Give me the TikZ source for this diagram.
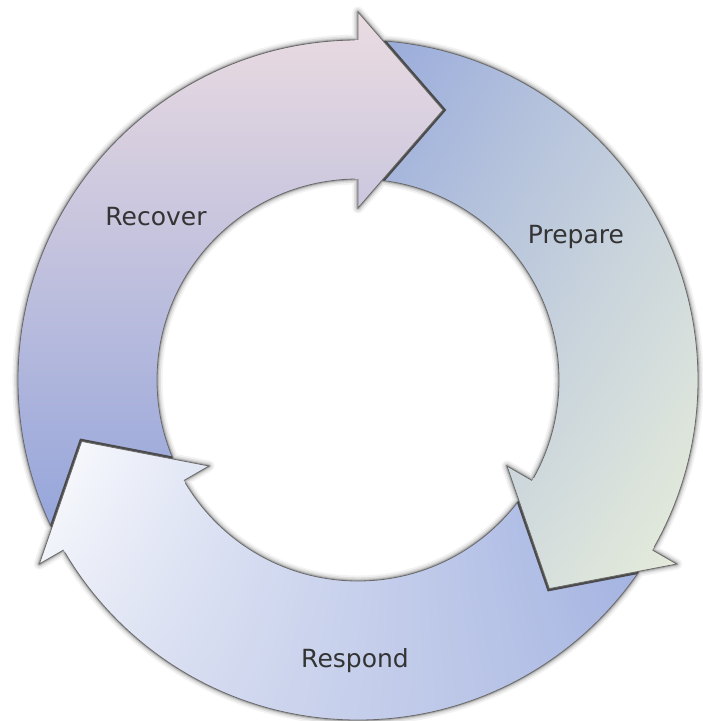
\documentclass[tikz,border=0pt]{standalone}
\usepackage{fontspec}
\setmainfont{DejaVu Sans}
\usetikzlibrary{calc,shadings}

% ring and arrowhead geometry (pt, centre of the ring at the origin)
\def\Ro{340}   % outer radius of the ring
\def\Ri{201}   % inner radius of the ring
\def\Ho{368}   % outer barb of an arrowhead
\def\Hi{172}   % inner barb of an arrowhead
\def\Hm{270}   % radius of the arrowhead axis
\def\Hl{85}    % arrowhead length

\definecolor{edgegray}{RGB}{105,105,105}
\definecolor{shadowgray}{RGB}{75,75,75}
\definecolor{labelgray}{RGB}{52,52,52}
\definecolor{recTop}{RGB}{236,220,225}
\definecolor{recBot}{RGB}{144,162,218}
\definecolor{preA}{RGB}{150,168,219}
\definecolor{preM}{RGB}{196,208,222}
\definecolor{preB}{RGB}{232,238,218}
\definecolor{resA}{RGB}{255,255,255}
\definecolor{resM}{RGB}{226,230,244}
\definecolor{resB}{RGB}{150,168,221}
\definecolor{resC}{RGB}{170,184,226}

\tikzset{
  edge/.style={draw=edgegray, line width=0.8pt, line join=miter},
  headshadow/.style={draw=shadowgray, line width=5pt, line join=miter},
  label/.style={text=labelgray, font=\fontsize{25}{30}\selectfont, anchor=base, inner sep=0pt}
}

% body of an arrow: ring sector running clockwise from #1 to #2
\newcommand\bodypath[2]{(#1:\Ro) arc[start angle=#1, end angle=#2, radius=\Ro pt] -- (#2:\Ri) arc[start angle=#2, end angle=#1, radius=\Ri pt] -- cycle}
% outline of the head of arrow #1 (named coordinates)
\newcommand\headpath[1]{(#1-bo) -- (#1-tip) -- (#1-bi) -- cycle}
% fill region of the head: reaches a little back into its own body
\newcommand\headfill[1]{(#1-bo) -- (#1-tip) -- (#1-bi) -- (#1-si) -- (#1-sib) -- (#1-sob) -- (#1-so) -- cycle}

\begin{document}
\begin{tikzpicture}[x=1pt,y=1pt]
\useasboundingbox (-358,-341) rectangle (345,380);
\fill[white] (-358,-341) rectangle (345,380);

% named points of the three arrowheads
\foreach \n/\b in {rec/90, pre/-30, res/210}{
  \coordinate (\n-bo) at (\b:\Ho);
  \coordinate (\n-bi) at (\b:\Hi);
  \coordinate (\n-so) at (\b:\Ro);
  \coordinate (\n-si) at (\b:\Ri);
  \coordinate (\n-sob) at ($(\b:\Ro)+(\b+90:3)$);
  \coordinate (\n-sib) at ($(\b:\Ri)+(\b+90:3)$);
  \coordinate (\n-tip) at ($(\b:\Hm)+(\b-90:\Hl)$);
}

% soft shadow around all shapes
\foreach \w/\o in {11/0.05, 7.5/0.07, 4.5/0.10, 2.5/0.16}{
  \draw[black, opacity=\o, line width=\w pt, line join=round]
    \bodypath{210}{90} \bodypath{90}{-30} \bodypath{330}{210}
    \headpath{rec} \headpath{pre} \headpath{res};
}

% arrow bodies
\begin{scope}
  \clip \bodypath{210}{90};
  \shade[top color=recTop, bottom color=recBot] (-345,-178) rectangle (92,372);
\end{scope}
\begin{scope}
  \clip \bodypath{90}{-30};
  \shade[upper left=preA, upper right=preM, lower left=preM, lower right=preB] (-5,-210) rectangle (342,342);
\end{scope}
\begin{scope}
  \clip \bodypath{330}{210};
  \shade[upper left=resA, lower left=resM, upper right=resB, lower right=resC] (-328,-342) rectangle (312,-50);
\end{scope}

% body outlines
\draw[edge] (0,0) circle[radius=\Ro pt];
\draw[edge] (0,0) circle[radius=\Ri pt];

% dark shadow of each head where it lies on the next arrow
\begin{scope}[even odd rule]
  \clip (0,0) circle[radius=\Ro pt] (0,0) circle[radius=\Ri pt];
  \foreach \n in {rec, pre, res}{
    \draw[headshadow] (\n-bo) -- (\n-tip) -- (\n-bi);
  }
\end{scope}

% arrowheads
\begin{scope}
  \clip \headfill{rec};
  \shade[top color=recTop, bottom color=recBot] (-345,-178) rectangle (92,372);
\end{scope}
\begin{scope}
  \clip \headfill{pre};
  \shade[upper left=preA, upper right=preM, lower left=preM, lower right=preB] (-5,-210) rectangle (342,342);
\end{scope}
\begin{scope}
  \clip \headfill{res};
  \shade[upper left=resA, lower left=resM, upper right=resB, lower right=resC] (-328,-342) rectangle (312,-50);
\end{scope}

% head outlines
\foreach \n in {rec, pre, res}{
  \draw[edge] (\n-so) -- (\n-bo) -- (\n-tip) -- (\n-bi) -- (\n-si);
}

% labels
\node[label] (recover) at (-202,155) {Recover};
\node[label] (prepare) at (218,137) {Prepare};
\node[label] (respond) at (-3,-287) {Respond};
\end{tikzpicture}
\end{document}
